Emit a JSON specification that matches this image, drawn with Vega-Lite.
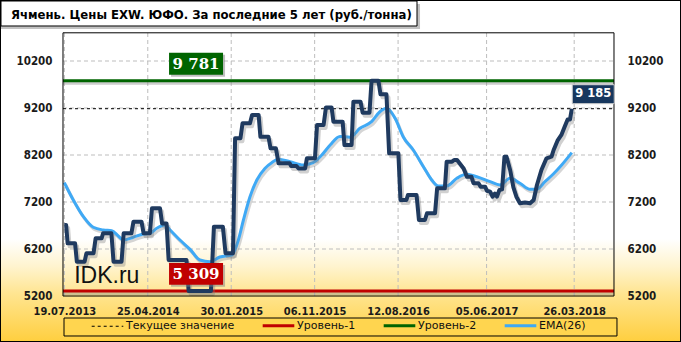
{
"$schema":"https://vega.github.io/schema/vega-lite/v6.json",
"width":679,"height":340,"autosize":{"type":"none"},"padding":1,"background":"#000000",
"title":{"text":"Ячмень. Цены EXW. ЮФО. За последние 5 лет (руб./тонна)","anchor":"start","frame":"group","orient":"top","offset":-31,"baseline":"alphabetic","dx":10,"font":"DejaVu Sans Condensed","fontSize":13,"fontWeight":"bold","color":"#000000"},
"datasets":{
"price":[{"date":"2013-07-19","value":6711},{"date":"2013-07-25","value":6711},{"date":"2013-07-30","value":6321},{"date":"2013-08-24","value":6321},{"date":"2013-08-30","value":5930},{"date":"2013-09-25","value":5930},{"date":"2013-10-01","value":6108},{"date":"2013-10-25","value":6108},{"date":"2013-11-01","value":6427},{"date":"2013-11-21","value":6427},{"date":"2013-11-26","value":6534},{"date":"2013-12-24","value":6534},{"date":"2013-12-31","value":5930},{"date":"2014-01-27","value":5930},{"date":"2014-02-03","value":6534},{"date":"2014-03-01","value":6534},{"date":"2014-03-08","value":6781},{"date":"2014-04-04","value":6781},{"date":"2014-04-11","value":6534},{"date":"2014-05-02","value":6534},{"date":"2014-05-09","value":7065},{"date":"2014-06-05","value":7065},{"date":"2014-06-12","value":6745},{"date":"2014-06-27","value":6745},{"date":"2014-07-04","value":5966},{"date":"2014-09-02","value":5966},{"date":"2014-09-09","value":5309},{"date":"2014-11-23","value":5309},{"date":"2014-12-03","value":6675},{"date":"2015-01-02","value":6675},{"date":"2015-01-11","value":6108},{"date":"2015-02-05","value":6108},{"date":"2015-02-12","value":8555},{"date":"2015-03-02","value":8555},{"date":"2015-03-09","value":8874},{"date":"2015-04-03","value":8874},{"date":"2015-04-10","value":9051},{"date":"2015-05-02","value":9051},{"date":"2015-05-08","value":8589},{"date":"2015-06-04","value":8589},{"date":"2015-06-11","value":8342},{"date":"2015-06-29","value":8342},{"date":"2015-07-08","value":8023},{"date":"2015-08-14","value":8023},{"date":"2015-08-19","value":7966},{"date":"2015-09-06","value":7966},{"date":"2015-09-13","value":7915},{"date":"2015-10-05","value":7915},{"date":"2015-10-11","value":8130},{"date":"2015-11-07","value":8130},{"date":"2015-11-14","value":8838},{"date":"2015-12-06","value":8838},{"date":"2015-12-14","value":9213},{"date":"2016-01-02","value":9213},{"date":"2016-01-08","value":8909},{"date":"2016-02-08","value":8909},{"date":"2016-02-14","value":8413},{"date":"2016-03-09","value":8413},{"date":"2016-03-15","value":9334},{"date":"2016-04-08","value":9334},{"date":"2016-04-15","value":9100},{"date":"2016-05-08","value":9100},{"date":"2016-05-15","value":9781},{"date":"2016-06-07","value":9781},{"date":"2016-06-14","value":9491},{"date":"2016-07-04","value":9491},{"date":"2016-07-13","value":8236},{"date":"2016-08-13","value":8236},{"date":"2016-08-20","value":7243},{"date":"2016-09-09","value":7243},{"date":"2016-09-14","value":7349},{"date":"2016-10-13","value":7349},{"date":"2016-10-21","value":6817},{"date":"2016-11-10","value":6817},{"date":"2016-11-17","value":6960},{"date":"2016-12-14","value":6960},{"date":"2016-12-21","value":7491},{"date":"2017-01-16","value":7491},{"date":"2017-01-22","value":8058},{"date":"2017-02-09","value":8058},{"date":"2017-02-16","value":8093},{"date":"2017-02-26","value":8093},{"date":"2017-03-20","value":7915},{"date":"2017-03-31","value":7738},{"date":"2017-04-15","value":7738},{"date":"2017-04-22","value":7600},{"date":"2017-05-09","value":7600},{"date":"2017-05-16","value":7526},{"date":"2017-05-31","value":7526},{"date":"2017-06-06","value":7440},{"date":"2017-06-17","value":7420},{"date":"2017-06-25","value":7313},{"date":"2017-07-03","value":7380},{"date":"2017-07-10","value":7313},{"date":"2017-07-18","value":7455},{"date":"2017-07-27","value":7470},{"date":"2017-08-04","value":8164},{"date":"2017-08-11","value":8164},{"date":"2017-08-23","value":7881},{"date":"2017-09-03","value":7510},{"date":"2017-09-13","value":7313},{"date":"2017-09-25","value":7172},{"date":"2017-10-12","value":7190},{"date":"2017-10-29","value":7172},{"date":"2017-11-10","value":7243},{"date":"2017-11-21","value":7562},{"date":"2017-12-06","value":7881},{"date":"2017-12-23","value":8130},{"date":"2018-01-09","value":8164},{"date":"2018-01-16","value":8306},{"date":"2018-01-29","value":8504},{"date":"2018-02-11","value":8626},{"date":"2018-02-22","value":8802},{"date":"2018-03-04","value":8957},{"date":"2018-03-12","value":8957},{"date":"2018-03-18","value":9185}],
"ema":[{"date":"2013-07-19","value":7611},{"date":"2013-08-18","value":7243},{"date":"2013-09-21","value":6887},{"date":"2013-10-24","value":6662},{"date":"2013-11-27","value":6604},{"date":"2013-12-25","value":6590},{"date":"2014-01-16","value":6477},{"date":"2014-02-02","value":6391},{"date":"2014-03-07","value":6449},{"date":"2014-04-10","value":6519},{"date":"2014-05-02","value":6534},{"date":"2014-05-25","value":6640},{"date":"2014-06-22","value":6711},{"date":"2014-07-09","value":6604},{"date":"2014-08-11","value":6391},{"date":"2014-09-14","value":6193},{"date":"2014-10-17","value":5966},{"date":"2014-11-20","value":5930},{"date":"2014-12-23","value":6030},{"date":"2015-02-01","value":6072},{"date":"2015-02-23","value":6391},{"date":"2015-03-12","value":6817},{"date":"2015-04-03","value":7313},{"date":"2015-04-26","value":7668},{"date":"2015-05-23","value":7915},{"date":"2015-06-15","value":8036},{"date":"2015-07-07","value":8108},{"date":"2015-08-15","value":8058},{"date":"2015-09-29","value":7987},{"date":"2015-11-01","value":8036},{"date":"2015-11-30","value":8200},{"date":"2015-12-28","value":8413},{"date":"2016-01-30","value":8596},{"date":"2016-03-04","value":8576},{"date":"2016-04-06","value":8768},{"date":"2016-05-15","value":8909},{"date":"2016-06-12","value":9121},{"date":"2016-07-05","value":9193},{"date":"2016-08-02","value":8981},{"date":"2016-08-29","value":8589},{"date":"2016-10-02","value":8306},{"date":"2016-11-05","value":7951},{"date":"2016-12-03","value":7668},{"date":"2016-12-25","value":7540},{"date":"2017-01-22","value":7540},{"date":"2017-02-25","value":7704},{"date":"2017-03-30","value":7789},{"date":"2017-05-03","value":7738},{"date":"2017-06-17","value":7632},{"date":"2017-07-20","value":7562},{"date":"2017-08-23","value":7704},{"date":"2017-09-25","value":7600},{"date":"2017-10-29","value":7470},{"date":"2017-11-20","value":7470},{"date":"2017-12-18","value":7632},{"date":"2018-01-15","value":7796},{"date":"2018-02-12","value":7987},{"date":"2018-03-18","value":8250}],
"levels":[{"series":"Уровень-1","value":5309},{"series":"Уровень-2","value":9781}],
"current":[{"series":"Текущее значение","value":9185}],
"gridx":[{"date":"2013-07-19"},{"date":"2014-04-25"},{"date":"2015-01-30"},{"date":"2015-11-06"},{"date":"2016-08-12"},{"date":"2017-06-05"},{"date":"2018-03-26"}],
"gridy":[{"value":6200},{"value":7200},{"value":8200},{"value":9200},{"value":10200}]
},
"layer":[
{"data":{"values":[{}]},
 "mark":{"type":"rect","fill":{"gradient":"linear","x1":0,"y1":0,"x2":0,"y2":1,"stops":[{"offset":0,"color":"#FFFFFF"},{"offset":0.7,"color":"#FFFFFF"},{"offset":0.78,"color":"#FFF4CF"},{"offset":0.86,"color":"#FFE591"},{"offset":1,"color":"#FFCF40"}]}},
 "encoding":{
  "x":{"datum":{"year":2012,"month":12,"date":18,"hours":10,"minutes":34,"utc":true},"type":"temporal","scale":{"type":"utc","domain":[{"year":2012,"month":12,"date":18,"hours":10,"minutes":34,"utc":true},{"year":2019,"month":3,"date":16,"hours":2,"minutes":24,"utc":true}]},"axis":null},
  "x2":{"datum":{"year":2019,"month":3,"date":16,"hours":2,"minutes":24,"utc":true}},
  "y":{"datum":4242.6,"type":"quantitative","scale":{"domain":[4242.6,11476.6],"nice":false,"zero":false},"axis":null},
  "y2":{"datum":11476.6}}},
{"data":{"values":[{}]},
 "mark":{"type":"rect","fill":"#9A9A9A","opacity":0.6},
 "encoding":{
  "x":{"datum":{"year":2012,"month":12,"date":18,"hours":10,"minutes":34,"utc":true},"type":"temporal","axis":null},
  "x2":{"datum":{"year":2016,"month":10,"date":24,"hours":14,"utc":true}},
  "y":{"datum":10880.9,"type":"quantitative","axis":null},
  "y2":{"datum":11412.8}}},
{"data":{"values":[{}]},
 "mark":{"type":"rect","fill":"#FFFFFF","stroke":"#000000","strokeWidth":1},
 "encoding":{
  "x":{"datum":{"year":2012,"month":12,"date":18,"hours":10,"minutes":34,"utc":true},"type":"temporal","axis":null},
  "x2":{"datum":{"year":2016,"month":10,"date":14,"hours":12,"utc":true}},
  "y":{"datum":10944.7,"type":"quantitative","axis":null},
  "y2":{"datum":11476.6}}},
{"data":{"values":[{}]},
 "mark":{"type":"rect","fill":"#FFD54F","stroke":"#000000","strokeWidth":1},
 "encoding":{
  "x":{"datum":{"year":2013,"month":7,"date":17,"hours":21,"utc":true},"type":"temporal","axis":null},
  "x2":{"datum":{"year":2018,"month":8,"date":16,"hours":14,"utc":true}},
  "y":{"datum":4349,"type":"quantitative","axis":null},
  "y2":{"datum":4731.9}}},
{"data":{"name":"gridy"},
 "mark":{"type":"rule","stroke":"#BDBDBD","strokeWidth":1,"strokeDash":[4,3]},
 "encoding":{
  "y":{"field":"value","type":"quantitative","axis":null},
  "x":{"datum":{"year":2013,"month":7,"date":14,"hours":12,"utc":true},"type":"temporal","axis":null},
  "x2":{"datum":{"year":2018,"month":8,"date":6,"hours":14,"utc":true}}}},
{"data":{"name":"gridx"},
 "mark":{"type":"rule","stroke":"#BDBDBD","strokeWidth":1,"strokeDash":[4,3]},
 "encoding":{
  "x":{"field":"date","type":"temporal","axis":null},
  "y":{"datum":5200,"type":"quantitative","axis":null},
  "y2":{"datum":10800}}},
{"data":{"name":"levels"},
 "mark":{"type":"rule","stroke":"#909090","opacity":0.45,"strokeWidth":3,"yOffset":2.5},
 "encoding":{
  "y":{"field":"value","type":"quantitative","axis":null},
  "x":{"datum":{"year":2013,"month":7,"date":14,"hours":12,"utc":true},"type":"temporal","axis":null},
  "x2":{"datum":{"year":2018,"month":8,"date":6,"hours":14,"utc":true}}}},
{"data":{"name":"levels"},
 "mark":{"type":"rule","strokeWidth":3},
 "encoding":{
  "y":{"field":"value","type":"quantitative","axis":null},
  "x":{"datum":{"year":2013,"month":7,"date":14,"hours":12,"utc":true},"type":"temporal","axis":null},
  "x2":{"datum":{"year":2018,"month":8,"date":6,"hours":14,"utc":true}},
  "color":{"field":"series","type":"nominal","scale":{"domain":["Текущее значение","Уровень-1","Уровень-2","EMA(26)"],"range":["#000000","#C00000","#006400","#3FA9F5"]},
   "legend":{"title":null,"orient":"none","legendX":101,"legendY":319,"direction":"horizontal","columns":4,"symbolType":"stroke","symbolSize":1000,"symbolStrokeWidth":3,"labelFont":"DejaVu Sans","labelFontSize":11,"labelColor":"#111111","labelOffset":13,"columnPadding":21,"padding":0,
    "encode":{"symbols":{"update":{"strokeDash":{"signal":"datum.value === 'Текущее значение' ? [3,3] : [1,0]"},"strokeWidth":{"signal":"datum.value === 'Текущее значение' ? 1 : 3"}}}}}}}},
{"data":{"name":"current"},
 "mark":{"type":"rule","strokeWidth":1,"strokeDash":[3,3]},
 "encoding":{
  "y":{"field":"value","type":"quantitative","axis":null},
  "x":{"datum":{"year":2013,"month":7,"date":14,"hours":12,"utc":true},"type":"temporal","axis":null},
  "x2":{"datum":{"year":2018,"month":8,"date":6,"hours":14,"utc":true}},
  "color":{"field":"series","type":"nominal","legend":null}}},
{"data":{"name":"ema"},
 "mark":{"type":"line","stroke":"#888888","opacity":0.35,"strokeWidth":3,"interpolate":"monotone","xOffset":1.5,"yOffset":2.5},
 "encoding":{
  "x":{"field":"date","type":"temporal","axis":null},
  "y":{"field":"value","type":"quantitative","axis":null}}},
{"data":{"name":"ema"},
 "mark":{"type":"line","strokeWidth":3,"interpolate":"monotone"},
 "encoding":{
  "x":{"field":"date","type":"temporal","axis":null},
  "y":{"field":"value","type":"quantitative","axis":{"orient":"right","offset":-66,"zindex":2,"values":[5200,6200,7200,8200,9200,10200],"format":"d","domain":false,"ticks":false,"tickSize":0,"grid":false,"labelPadding":13,"labelAlign":"left","labelFont":"DejaVu Sans Condensed","labelFontSize":11.5,"labelFontWeight":"bold","labelColor":"#1A1A1A","title":null}},
  "color":{"datum":"EMA(26)","type":"nominal","legend":null}}},
{"data":{"name":"price"},
 "mark":{"type":"line","stroke":"#777777","opacity":0.35,"strokeWidth":4,"strokeJoin":"round","xOffset":2,"yOffset":3},
 "encoding":{
  "x":{"field":"date","type":"temporal","axis":null},
  "y":{"field":"value","type":"quantitative","axis":null}}},
{"data":{"name":"price"},
 "mark":{"type":"line","stroke":"#1F3A5F","strokeWidth":4,"strokeJoin":"round"},
 "encoding":{
  "x":{"field":"date","type":"temporal","axis":{"orient":"bottom","offset":-45,"zindex":2,"values":[{"year":2013,"month":7,"date":19,"utc":true},{"year":2014,"month":4,"date":25,"utc":true},{"year":2015,"month":1,"date":30,"utc":true},{"year":2015,"month":11,"date":6,"utc":true},{"year":2016,"month":8,"date":12,"utc":true},{"year":2017,"month":6,"date":5,"utc":true},{"year":2018,"month":3,"date":26,"utc":true}],"labelExpr":"utcFormat(datum.value, '%d.%m.%Y')","domain":false,"ticks":false,"tickSize":0,"grid":false,"labelPadding":9,"labelFlush":false,"labelOverlap":false,"labelFont":"DejaVu Sans Condensed","labelFontSize":11,"labelFontWeight":"bold","labelColor":"#1A1A1A","title":null}},
  "y":{"field":"value","type":"quantitative","axis":{"orient":"left","offset":-62,"zindex":2,"values":[5200,6200,7200,8200,9200,10200],"format":"d","domain":false,"ticks":false,"tickSize":0,"grid":false,"labelPadding":11,"labelFont":"DejaVu Sans Condensed","labelFontSize":11.5,"labelFontWeight":"bold","labelColor":"#1A1A1A","title":null}}}},
{"data":{"values":[{}]},
 "mark":{"type":"rect","fillOpacity":0,"stroke":"#000000","strokeWidth":1},
 "encoding":{
  "x":{"datum":{"year":2013,"month":7,"date":14,"hours":12,"utc":true},"type":"temporal","axis":null},
  "x2":{"datum":{"year":2018,"month":8,"date":6,"hours":14,"utc":true}},
  "y":{"datum":5200,"type":"quantitative","axis":null},
  "y2":{"datum":10800}}},
{"data":{"name":"levels"},
 "mark":{"type":"point","shape":"M-1,-0.407H1V0.407H-1Z","filled":true,"size":2916,"opacity":0.5,"color":"#808080","xOffset":2,"yOffset":-15},
 "encoding":{
  "x":{"datum":{"year":2014,"month":10,"date":4,"utc":true},"type":"temporal","axis":null},
  "y":{"field":"value","type":"quantitative","axis":null}}},
{"data":{"name":"levels"},
 "mark":{"type":"point","shape":"M-1,-0.407H1V0.407H-1Z","filled":true,"size":2916,"opacity":1,"yOffset":-17},
 "encoding":{
  "x":{"datum":{"year":2014,"month":10,"date":4,"utc":true},"type":"temporal","axis":null},
  "y":{"field":"value","type":"quantitative","axis":null},
  "color":{"field":"series","type":"nominal","legend":null}}},
{"data":{"name":"levels"},
 "mark":{"type":"text","font":"DejaVu Serif","fontSize":15,"fontWeight":"bold","color":"#FFFFFF","align":"center","baseline":"middle","dy":-17},
 "encoding":{
  "x":{"datum":{"year":2014,"month":10,"date":4,"utc":true},"type":"temporal","axis":null},
  "y":{"field":"value","type":"quantitative","axis":null},
  "text":{"field":"value","type":"quantitative","format":",d"}}},
{"data":{"name":"current"},
 "mark":{"type":"point","shape":"M-1,-0.452H1V0.452H-1Z","filled":true,"size":1764,"opacity":1,"color":"#17375E","stroke":"#D0D0D0","strokeWidth":1,"yOffset":-14.5},
 "encoding":{
  "x":{"datum":{"year":2018,"month":5,"date":29,"utc":true},"type":"temporal","axis":null},
  "y":{"field":"value","type":"quantitative","axis":null}}},
{"data":{"name":"current"},
 "mark":{"type":"text","font":"DejaVu Sans","fontSize":11.5,"fontWeight":"bold","color":"#FFFFFF","align":"center","baseline":"middle","dy":-14.5},
 "encoding":{
  "x":{"datum":{"year":2018,"month":5,"date":29,"utc":true},"type":"temporal","axis":null},
  "y":{"field":"value","type":"quantitative","axis":null},
  "text":{"field":"value","type":"quantitative","format":",d"}}},
{"data":{"values":[{}]},
 "mark":{"type":"text","text":"IDK.ru","font":"Liberation Sans","fontSize":23,"color":"#111111","align":"left","baseline":"alphabetic"},
 "encoding":{
  "x":{"datum":{"year":2013,"month":8,"date":21,"utc":true},"type":"temporal","axis":null},
  "y":{"datum":5477,"type":"quantitative","axis":null}}}
],
"resolve":{"axis":{"x":"independent","y":"independent"}},
"config":{"view":{"stroke":null},"locale":{"number":{"decimal":",","thousands":" ","grouping":[3],"currency":["",""]}}}
}
